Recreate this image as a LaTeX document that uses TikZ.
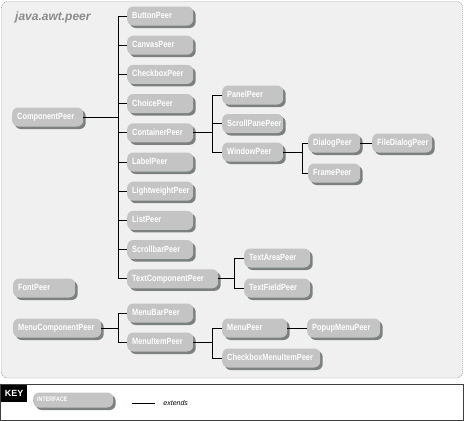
\documentclass[tikz,border=0pt]{standalone}
\usepackage{fontspec}
\setmainfont{Liberation Sans}
\newfontfamily\peerfont{Liberation Sans}[FakeStretch=0.82]
\usetikzlibrary{shadows}
\definecolor{peerfill}{RGB}{196,196,196}
\definecolor{peershade}{RGB}{125,128,128}
\definecolor{paper}{RGB}{240,240,240}
\tikzset{
  peer/.style={fill=peerfill, rounded corners=6pt, text=white,
    font=\peerfont\bfseries\fontsize{9}{10}\selectfont,
    text width=#1, align=left, inner xsep=5pt, inner ysep=0pt,
    minimum height=19pt, text height=6.5pt, text depth=1.5pt, anchor=west,
    drop shadow={shadow xshift=2.5pt, shadow yshift=-2.5pt, fill=peershade, opacity=1}},
  peer/.default=56pt,
  link/.style={line width=0.9pt}
}
\begin{document}
\begin{tikzpicture}[x=1pt,y=-1pt]
  \useasboundingbox (0,0) rectangle (464,421);
  \draw [dash pattern=on 1pt off 1pt, draw=black!60, fill=paper, rounded corners=6pt] (1.5,1.5) rectangle (462.5,378);
  \node [anchor=west, inner sep=0pt, text=black!45, font=\bfseries\itshape\fontsize{12}{14}\selectfont] (title) at (15,17) {java.awt.peer};

  \node [peer=61pt] (comp) at (12,117) {ComponentPeer};
  \node [peer] (button) at (127,16) {ButtonPeer};
  \node [peer] (canvas) at (127,45.2) {CanvasPeer};
  \node [peer] (checkbox) at (127,74.4) {CheckboxPeer};
  \node [peer] (choice) at (127,103.6) {ChoicePeer};
  \node [peer] (container) at (127,132.8) {ContainerPeer};
  \node [peer] (label) at (127,162) {LabelPeer};
  \node [peer] (lightweight) at (127,191.2) {LightweightPeer};
  \node [peer] (list) at (127,220.4) {ListPeer};
  \node [peer] (scrollbar) at (127,249.6) {ScrollbarPeer};
  \node [peer=81pt] (textcomp) at (127,278.8) {TextComponentPeer};

  \node [peer=51pt] (panel) at (222,95) {PanelPeer};
  \node [peer=51pt] (scrollpane) at (222,123.5) {ScrollPanePeer};
  \node [peer=51pt] (window) at (222,152) {WindowPeer};
  \node [peer=42pt] (dialog) at (308,143) {DialogPeer};
  \node [peer=42pt] (frame) at (308,173) {FramePeer};
  \node [peer=50pt] (filedialog) at (372,143) {FileDialogPeer};

  \node [peer] (textarea) at (244,258) {TextAreaPeer};
  \node [peer] (textfield) at (244,288) {TextFieldPeer};

  \node [peer=52pt] (font) at (13,288) {FontPeer};
  \node [peer=78pt] (menucomp) at (13,328) {MenuComponentPeer};
  \node [peer] (menubar) at (127,313) {MenuBarPeer};
  \node [peer] (menuitem) at (127,342) {MenuItemPeer};
  \node [peer=55pt] (menu) at (222,328) {MenuPeer};
  \node [peer=88pt] (checkboxmenuitem) at (222,358) {CheckboxMenuItemPeer};
  \node [peer=63pt] (popupmenu) at (307,328) {PopupMenuPeer};

  \coordinate (compfork) at (118,117);
  \coordinate (containerfork) at (212,132.8);
  \coordinate (windowfork) at (302,152);
  \coordinate (textfork) at (234,278.8);
  \coordinate (menucompfork) at (118,328);
  \coordinate (menuitemfork) at (212,342);

  \draw [link] (comp.east) -- (compfork);
  \draw [link] (compfork) |- (button.west);
  \draw [link] (compfork) |- (canvas.west);
  \draw [link] (compfork) |- (checkbox.west);
  \draw [link] (compfork) |- (choice.west);
  \draw [link] (compfork) |- (container.west);
  \draw [link] (compfork) |- (label.west);
  \draw [link] (compfork) |- (lightweight.west);
  \draw [link] (compfork) |- (list.west);
  \draw [link] (compfork) |- (scrollbar.west);
  \draw [link] (compfork) |- (textcomp.west);

  \draw [link] (container.east) -- (containerfork);
  \draw [link] (containerfork) |- (panel.west);
  \draw [link] (containerfork) |- (scrollpane.west);
  \draw [link] (containerfork) |- (window.west);
  \draw [link] (window.east) -- (windowfork);
  \draw [link] (windowfork) |- (dialog.west);
  \draw [link] (windowfork) |- (frame.west);
  \draw [link] (dialog.east) -- (filedialog.west);

  \draw [link] (textcomp.east) -- (textfork);
  \draw [link] (textfork) |- (textarea.west);
  \draw [link] (textfork) |- (textfield.west);

  \draw [link] (menucomp.east) -- (menucompfork);
  \draw [link] (menucompfork) |- (menubar.west);
  \draw [link] (menucompfork) |- (menuitem.west);
  \draw [link] (menuitem.east) -- (menuitemfork);
  \draw [link] (menuitemfork) |- (menu.west);
  \draw [link] (menuitemfork) |- (checkboxmenuitem.west);
  \draw [link] (menu.east) -- (popupmenu.west);

  \draw [line width=0.8pt, draw=black!75, fill=white] (0.5,384) rectangle (463.5,420);
  \node [anchor=north west, fill=black, text=white, inner sep=0pt, minimum width=26pt, minimum height=17pt, font=\bfseries\fontsize{9}{10}\selectfont] (key) at (0.9,384.4) {KEY};
  \node [peer=72pt, inner xsep=4pt, minimum height=15pt, text height=4.5pt, text depth=1pt, font=\peerfont\bfseries\fontsize{6.5}{7}\selectfont] (iface) at (33,400) {INTERFACE};
  \coordinate (extstart) at (132,403);
  \coordinate (extend) at (155,403);
  \draw [link] (extstart) -- (extend) node [anchor=west, inner sep=0pt, xshift=8pt, font=\itshape\fontsize{7}{8}\selectfont] (extlabel) {extends};
\end{tikzpicture}
\end{document}
